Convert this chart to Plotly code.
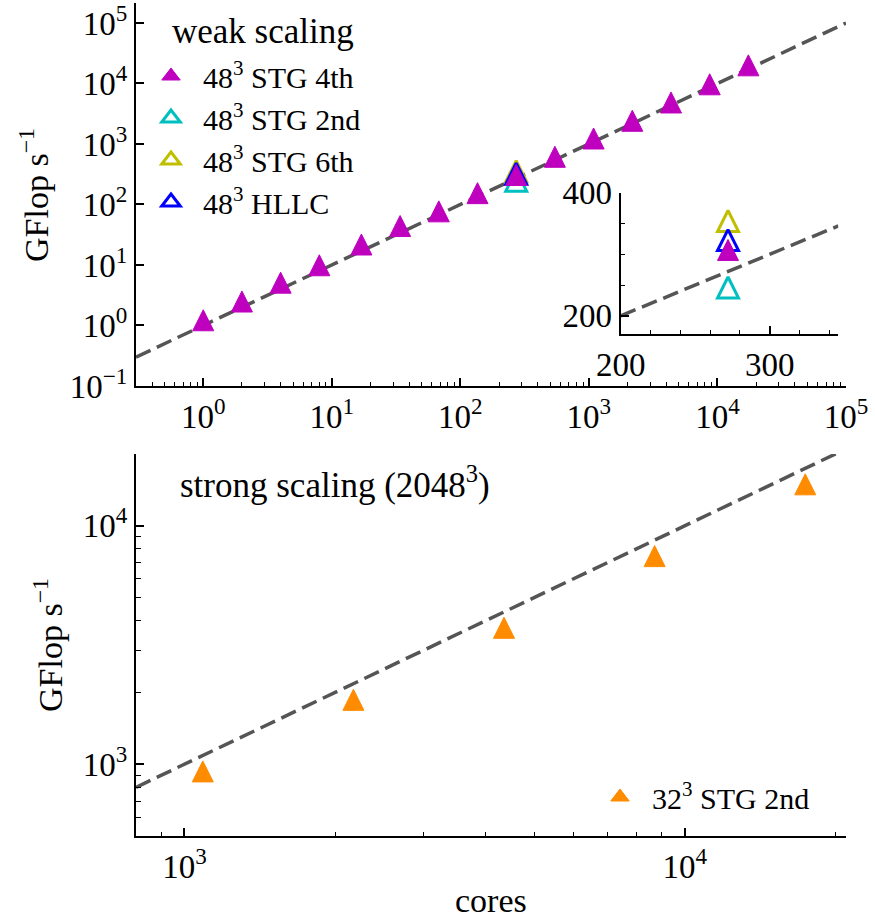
import math
import plotly.graph_objects as go

# ---------------- data ----------------
weak_cores = [1, 2, 4, 8, 17, 34, 68, 136, 272, 544, 1088, 2176, 4352, 8704, 17408]
weak_stg4 = [1.22, 2.49, 5.1, 9.9, 21.8, 44, 77, 154, 307, 614, 1232, 2417, 4853, 9690, 19950]

single_cores = [272]
weak_stg2 = [246]
weak_stg6 = [354]
weak_hllc = [323]

strong_cores = [1088, 2176, 4352, 8704, 17408]
strong_stg2 = [933, 1862, 3733, 7460, 14920]

weak_fit_x = [0.3, 1e5]
weak_fit_y = [0.3, 1e5]
inset_fit_x = [200, 346]
inset_fit_y = [200, 346]
strong_fit_x = [800, 21000]
strong_fit_y = [800, 21000]

# ---------------- style ----------------
W, H = 875, 919
FONT = "Liberation Serif"
FS = 33      # tick labels
AFS = 35     # panel titles
LFS = 30     # legend entries
MAG, CYA, YEL, BLU, ORA = "#BF00BF", "#00BFBF", "#BFBF00", "#0000FF", "#FF8C00"
LINEC = "#555555"
MS = 21
GAP = "\u2009\u2009"


def px(x):
    return x / W


def py(y):
    return 1 - y / H


def tri(color, open_=False, size=MS):
    if open_:
        return dict(symbol="arrow-down-open", size=size, angle=180, standoff=size / 2,
                    color=color, line=dict(color=color, width=3))
    return dict(symbol="arrow-down", size=size, angle=180, standoff=size / 2,
                color=color, line=dict(color=color, width=1))


def leg_tri(color, open_=False):
    if open_:
        return dict(symbol="triangle-up-open", size=16, color=color, line=dict(color=color, width=3))
    return dict(symbol="triangle-up", size=16, color=color, line=dict(color=color, width=1))


def sup(n):
    s = str(n).replace("-", "\u2212")
    return f"10<sup>{s}</sup>"


def minor_log(lo, hi):
    vals = []
    for e in range(lo, hi + 1):
        for m in range(2, 10):
            vals.append(m * 10 ** e)
    return vals


fig = go.Figure()
DASH = dict(color=LINEC, width=3.5, dash="16px,7px")

# top panel
fig.add_trace(go.Scatter(x=weak_fit_x, y=weak_fit_y, mode="lines", line=DASH,
                         showlegend=False, xaxis="x", yaxis="y", hoverinfo="skip"))
for yy, c in [(weak_stg2, CYA), (weak_stg6, YEL), (weak_hllc, BLU)]:
    fig.add_trace(go.Scatter(x=single_cores, y=yy, mode="markers", marker=tri(c, True),
                             showlegend=False, xaxis="x", yaxis="y"))
fig.add_trace(go.Scatter(x=weak_cores, y=weak_stg4, mode="markers", marker=tri(MAG),
                         showlegend=False, xaxis="x", yaxis="y"))

# legend entries (symbols only)
for nm, c, op, rk in [("48<sup>3</sup> STG 4th", MAG, False, 1),
                      ("48<sup>3</sup> STG 2nd", CYA, True, 2),
                      ("48<sup>3</sup> STG 6th", YEL, True, 3),
                      ("48<sup>3</sup> HLLC", BLU, True, 4)]:
    fig.add_trace(go.Scatter(x=[None], y=[None], mode="markers", name=GAP + nm, marker=leg_tri(c, op),
                             legendrank=rk, xaxis="x", yaxis="y"))

# inset
fig.add_trace(go.Scatter(x=inset_fit_x, y=inset_fit_y, mode="lines", line=DASH,
                         showlegend=False, xaxis="x3", yaxis="y3", hoverinfo="skip"))
for yy, c in [(weak_stg2, CYA), (weak_stg6, YEL), (weak_hllc, BLU)]:
    fig.add_trace(go.Scatter(x=single_cores, y=yy, mode="markers", marker=tri(c, True),
                             showlegend=False, xaxis="x3", yaxis="y3"))
fig.add_trace(go.Scatter(x=[weak_cores[8]], y=[weak_stg4[8]], mode="markers", marker=tri(MAG),
                         showlegend=False, xaxis="x3", yaxis="y3"))

# bottom panel
fig.add_trace(go.Scatter(x=strong_fit_x, y=strong_fit_y, mode="lines", line=DASH,
                         showlegend=False, xaxis="x2", yaxis="y2", hoverinfo="skip"))
fig.add_trace(go.Scatter(x=strong_cores, y=strong_stg2, mode="markers", marker=tri(ORA),
                         showlegend=False, xaxis="x2", yaxis="y2"))
fig.add_trace(go.Scatter(x=[None], y=[None], mode="markers", name=GAP + "32<sup>3</sup> STG 2nd",
                         marker=leg_tri(ORA), legend="legend2", xaxis="x2", yaxis="y2"))

tickfont = dict(family=FONT, size=FS, color="black")
common = dict(showgrid=False, zeroline=False, showline=True, linecolor="black", linewidth=2,
              ticks="inside", ticklen=8, tickwidth=1.5, tickcolor="black", tickfont=tickfont,
              mirror=False, automargin=False, ticklabeloverflow="allow")
minor_common = dict(ticks="inside", ticklen=4.5, tickwidth=1.2, tickcolor="black", showgrid=False)

XD = [px(136), px(846)]
fig.update_layout(
    width=W, height=H, margin=dict(l=0, r=0, t=0, b=0, autoexpand=False),
    paper_bgcolor="white", plot_bgcolor="rgba(0,0,0,0)",
    font=dict(family=FONT, size=FS, color="black"),
    xaxis=dict(type="log", range=[math.log10(0.3), 5], domain=XD, anchor="y",
               tickmode="array", tickvals=[10 ** e for e in range(0, 6)],
               ticktext=[sup(e) for e in range(0, 6)],
               minor=dict(tickmode="array", tickvals=[v for v in minor_log(-1, 4) if v >= 0.3], **minor_common),
               **common),
    yaxis=dict(type="log", range=[-1, 5.325], domain=[py(386), py(3.3)], anchor="x",
               tickmode="array", tickvals=[10 ** e for e in range(-1, 6)],
               ticktext=[sup(e) for e in range(-1, 6)], **common),
    xaxis2=dict(type="log", range=[math.log10(800), math.log10(21000)], domain=XD, anchor="y2",
                tickmode="array", tickvals=[1e3, 1e4], ticktext=[sup(3), sup(4)],
                minor=dict(tickmode="array", tickvals=[v for v in minor_log(2, 4) if 800 <= v <= 21000], **minor_common),
                **common),
    yaxis2=dict(type="log", range=[math.log10(500), math.log10(20000)], domain=[py(836), py(454)], anchor="x2",
                tickmode="array", tickvals=[1e3, 1e4], ticktext=[sup(3), sup(4)],
                minor=dict(tickmode="array", tickvals=[v for v in minor_log(2, 4) if 500 <= v <= 20000], **minor_common),
                **common),
    xaxis3=dict(type="linear", range=[200, 346], domain=[px(620.7), px(838.3)], anchor="y3",
                tickmode="array", tickvals=[200, 300], ticktext=["200", "300"],
                minor=dict(tickmode="array", tickvals=[220, 240, 260, 280, 320, 340], **minor_common),
                **common),
    yaxis3=dict(type="linear", range=[170, 400], domain=[py(334.3), py(192.7)], anchor="x3",
                tickmode="array", tickvals=[200, 400], ticktext=["200", "400"],
                minor=dict(tickmode="array", tickvals=[250, 300, 350], **minor_common),
                **common),
    legend=dict(x=px(151), y=py(50), xanchor="left", yanchor="top", bgcolor="rgba(0,0,0,0)",
                font=dict(family=FONT, size=LFS, color="black"), tracegroupgap=0),
    legend2=dict(x=px(600), y=py(771), xanchor="left", yanchor="top", bgcolor="rgba(0,0,0,0)",
                 font=dict(family=FONT, size=LFS, color="black")),
    annotations=[
        dict(text="weak scaling", x=px(170), y=py(32), xref="paper", yref="paper",
             xanchor="left", yanchor="middle", showarrow=False, font=dict(family=FONT, size=AFS)),
        dict(text="strong scaling (2048<sup>3</sup>)", x=px(178), y=py(483), xref="paper", yref="paper",
             xanchor="left", yanchor="middle", showarrow=False, font=dict(family=FONT, size=AFS)),
        dict(text="GFlop s<sup>\u22121</sup>", x=px(34), y=py(195), xref="paper", yref="paper",
             xanchor="center", yanchor="middle", textangle=-90, showarrow=False,
             font=dict(family=FONT, size=34)),
        dict(text="GFlop s<sup>\u22121</sup>", x=px(48), y=py(645), xref="paper", yref="paper",
             xanchor="center", yanchor="middle", textangle=-90, showarrow=False,
             font=dict(family=FONT, size=34)),
        dict(text="cores", x=px(491), y=py(900), xref="paper", yref="paper",
             xanchor="center", yanchor="middle", showarrow=False, font=dict(family=FONT, size=34)),
    ],
)

fig.write_html("out.html")
